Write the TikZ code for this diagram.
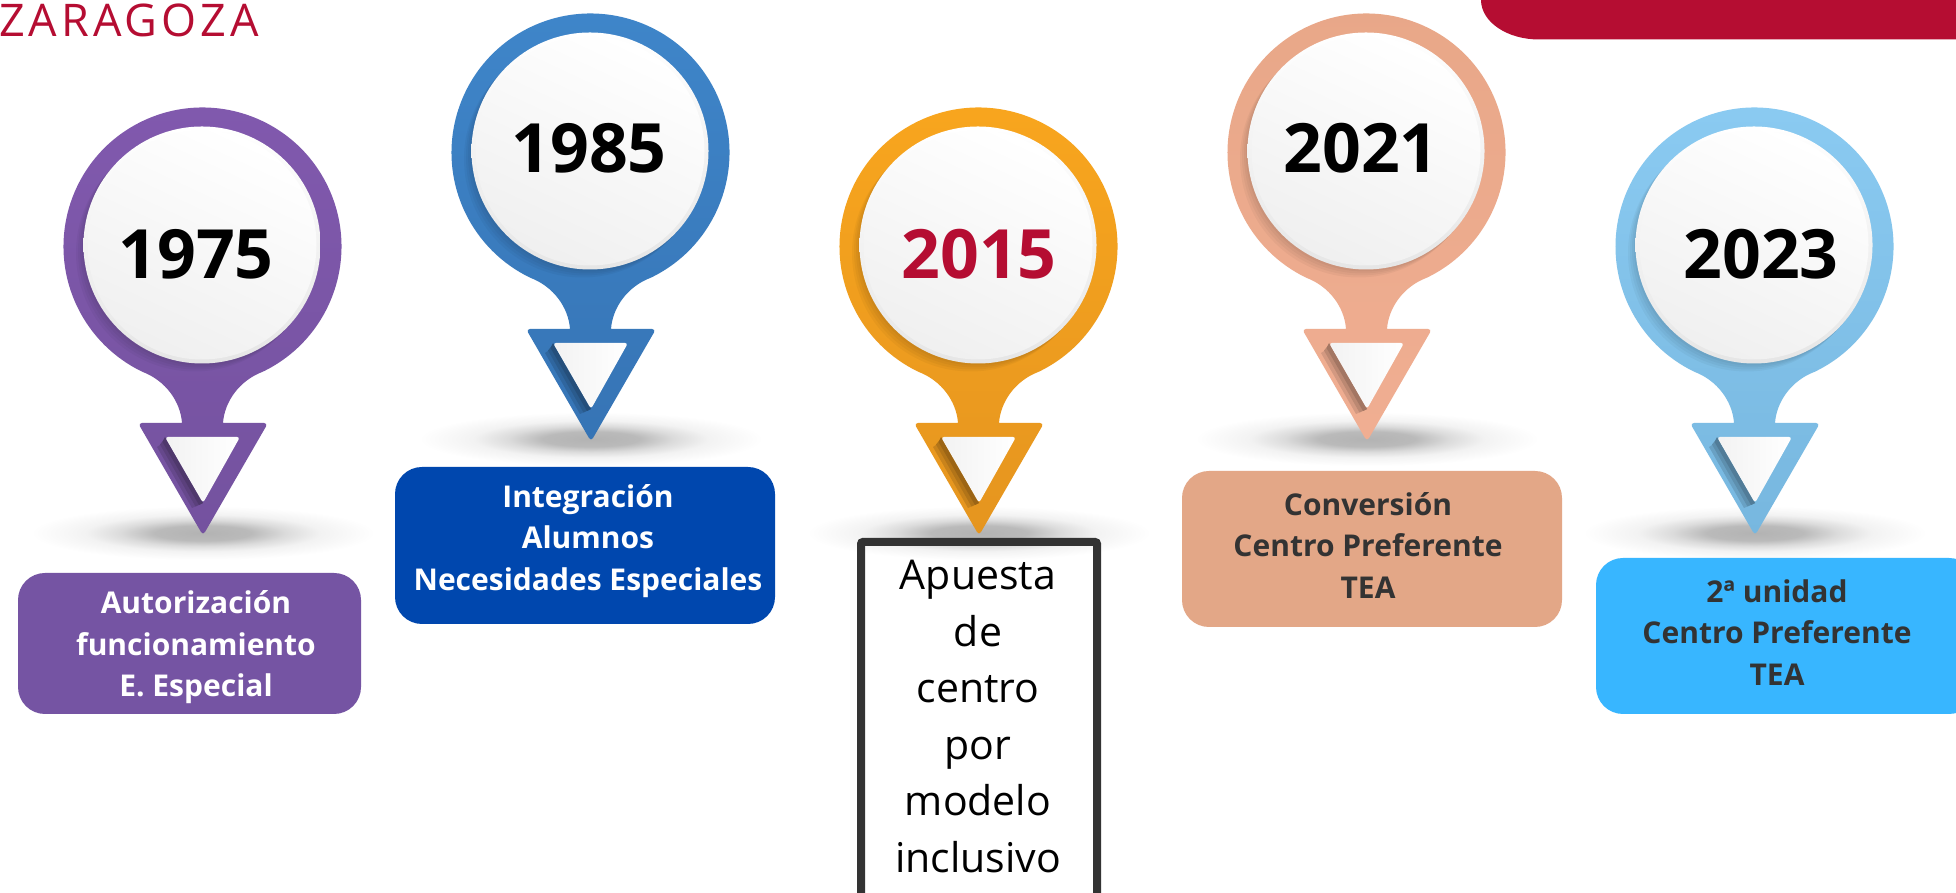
\documentclass[tikz,border=0pt]{standalone}
\usepackage{fontspec}
\setmainfont{Open Sans}
\newfontfamily\zarfont[LetterSpace=9]{Open Sans}
\definecolor{crimson}{HTML}{B50D32}
\definecolor{ink}{HTML}{333333}
\definecolor{boxpurple}{HTML}{7554A3}
\definecolor{boxblue}{HTML}{0047AE}
\definecolor{boxsalmon}{HTML}{E3A787}
\definecolor{boxsky}{HTML}{38B6FF}
\pgfdeclareradialshading{pinshadow}{\pgfpoint{0bp}{0bp}}{color(0bp)=(black!30); color(7bp)=(black!27); color(12bp)=(black!14); color(17bp)=(black!5); color(25bp)=(white); color(50bp)=(white)}
\tikzset{
  yearlabel/.style={font=\fontsize{68}{68}\bfseries\selectfont,anchor=base,inner sep=0},
  tagbox/.style={rounded corners=27pt,minimum width=#1,inner sep=0,draw=none},
  tagtext/.style={font=\fontsize{30}{41.5}\bfseries\selectfont,align=center,inner sep=0},
  disc/.style={circle,inner sep=0,minimum size=237pt,top color=white,bottom color=black!10},
}
% #1 name, #2 cx, #3 cy (from the top of the image), #4 top colour, #5 bottom colour
\newcommand{\mypin}[5]{%
\begin{scope}[shift={(#2,893-#3)}]
  \definecolor{ringtop}{HTML}{#4}\definecolor{ringbot}{HTML}{#5}
  \shade[shading=pinshadow] (0.5,-286.5) ellipse [x radius=172,y radius=27];
  \foreach \k in {1,2,3}{\fill[black,opacity=.02,rounded corners=3pt] (-45-2*\k,-190) -- (-25,-190) -- (-5,-262) -- (-10-\k,-262) -- cycle;}
  \shade[top color=ringtop,bottom color=ringbot] (-64.3:139) arc[start angle=-64.3,end angle=244.3,radius=139]
     .. controls (-37,-134) and (-22,-155) .. (-20.5,-176.5)
     {[rounded corners=4pt] -- (-64.5,-176.5) -- (0.5,-289) -- (65.5,-176.5)} -- (20.5,-176.5)
     .. controls (22,-155) and (37,-134) .. (-64.3:139) -- cycle;
  \foreach \k in {2,4,6,8}{\fill[black,opacity=.035] (-\k,1.5-\k) circle[radius=118.5];}
  \fill[ringbot!88!black] (-39.5,-196.5) -- (-45.5,-200.5) -- (-10.5,-261.5) -- (0.5,-256.5) -- cycle;
  \fill[ringbot!78!black] (-37.5,-192) -- (-42.5,-198) -- (-7,-260) -- (0.5,-256.5) -- cycle;
  \fill[ringbot!68!black] (-37.5,-190.5) -- (-40,-195.5) -- (-3.5,-258.5) -- (0.5,-256.5) -- cycle;
  \node[disc] (#1) at (-0.5,1.5) {};
  \shade[left color=white,right color=black!6,shading angle=-25] (-0.5,1.5) circle[radius=114.5];
  \shade[left color=black!5,right color=white,rounded corners=3pt] (-37.5,-190.5) -- (37.5,-190.5) -- (0.5,-256.5) -- cycle;
\end{scope}}
\begin{document}
\begin{tikzpicture}[x=1pt,y=1pt]
\useasboundingbox (0,0) rectangle (1956,893);
\fill[white] (0,0) rectangle (1956,893);
% header fragments
\node[font=\fontsize{45}{45}\zarfont\selectfont,text=crimson,anchor=base west,inner sep=0] (brand) at (-1,856) {ZARAGOZA};
\fill[crimson] (1481,900) -- (1481,893) arc[start angle=180,end angle=270,x radius=58,y radius=39.5] -- (1970,853.5) -- (1970,900) -- cycle;
% pins
\mypin{p1}{202.5}{246.5}{8159AE}{74529F}
\mypin{p2}{590.5}{152.5}{3F86CA}{3674B5}
\mypin{p3}{978.5}{246.5}{F9A61E}{E5951F}
\mypin{p4}{1366.5}{152.5}{E8A788}{F0AE92}
\mypin{p5}{1754.5}{246.5}{8BCBF2}{77B7DF}
% years
\node[yearlabel] (t1975) at (196,893-279) {1975};
\node[yearlabel] (t1985) at (589,893-173) {1985};
\node[yearlabel,text=crimson] (t2015) at (979,893-279) {2015};
\node[yearlabel] (t2021) at (1361,893-173) {2021};
\node[yearlabel] (t2023) at (1761,893-279) {2023};
% boxes
\node[tagbox=343pt,minimum height=141pt,fill=boxpurple] (b1) at (189.5,893-643.5) {};
\node[tagtext,text=white] (l1) at (196,893-647.5) {Autorización\\funcionamiento\\E. Especial};
\node[tagbox=380pt,minimum height=157pt,fill=boxblue] (b2) at (585,893-545.5) {};
\node[tagtext,text=white] (l2) at (588,893-541) {Integración\\Alumnos\\Necesidades Especiales};
\node[draw=ink,line width=8pt,rounded corners=2pt,minimum width=236pt,minimum height=372pt,inner sep=0] (b3) at (979,893-728) {};
\node[font=\fontsize{41}{56.5}\selectfont,align=center,inner sep=0,text=black] (l3) at (978,893-716.5) {Apuesta\\de\\centro\\por\\modelo\\inclusivo};
\node[tagbox=380pt,minimum height=156pt,fill=boxsalmon] (b4) at (1372,893-549) {};
\node[tagtext,text=ink] (l4) at (1368,893-545.5) {Conversión\\Centro Preferente\\TEA};
\node[tagbox=380pt,minimum height=156pt,fill=boxsky] (b5) at (1786,893-636) {};
\node[tagtext,text=ink] (l5) at (1777,893-632.5) {2ª unidad\\Centro Preferente\\TEA};
\end{tikzpicture}
\end{document}
